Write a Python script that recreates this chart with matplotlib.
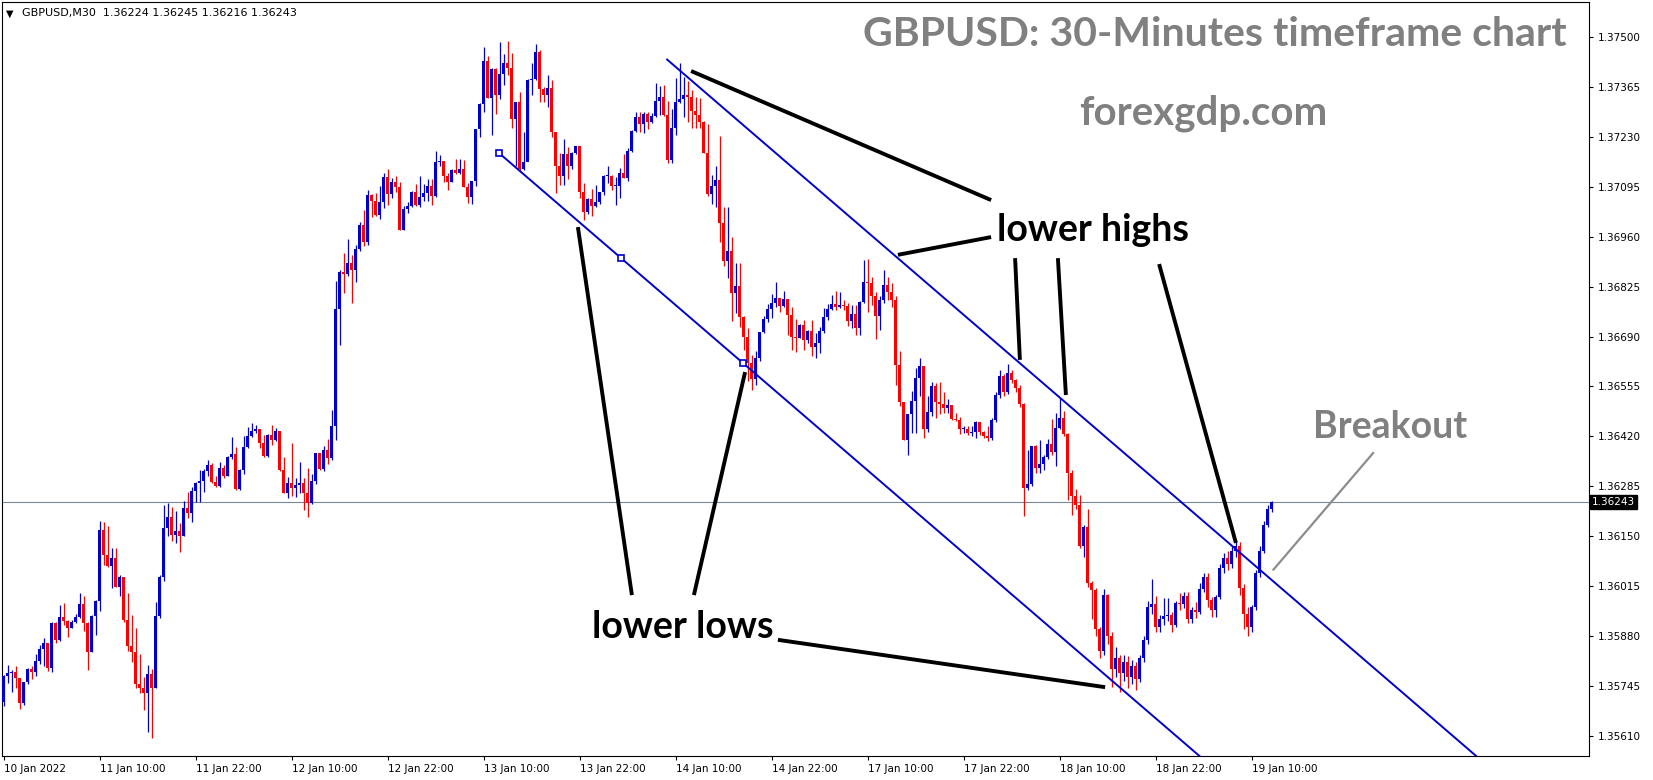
import matplotlib
matplotlib.use("Agg")
import matplotlib.pyplot as plt
from matplotlib.transforms import ScaledTranslation
import numpy as np

# GBPUSD M30 candles, price stored as points (1e-5) above 1.35000
# open of each bar = close of the previous bar
first_open = 703
closes = [
    771, 781, 782, 768, 698, 756, 791, 784, 813, 845, 862, 793, 915, 870, 933, 922, 903, 918, 933, 967,
    916, 838, 935, 976, 1167, 1099, 1070, 1090, 1014, 1040, 924, 854, 838, 751, 741, 727, 778, 739, 934, 1041,
    1173, 1203, 1153, 1164, 1151, 1227, 1214, 1272, 1295, 1300, 1327, 1343, 1298, 1287, 1334, 1314, 1363, 1372, 1278, 1329,
    1392, 1421, 1435, 1440, 1401, 1367, 1424, 1409, 1435, 1329, 1268, 1293, 1280, 1288, 1295, 1268, 1241, 1300, 1374, 1331,
    1383, 1361, 1448, 1765, 1864, 1858, 1888, 1870, 1928, 1992, 1947, 2073, 2057, 2019, 2055, 2122, 2075, 2109, 2095, 1978,
    2035, 2043, 2082, 2046, 2068, 2079, 2097, 2071, 2162, 2164, 2125, 2109, 2141, 2133, 2142, 2095, 2068, 2111, 2250, 2319,
    2435, 2336, 2414, 2343, 2400, 2431, 2417, 2277, 2323, 2142, 2163, 2384, 2386, 2460, 2359, 2343, 2363, 2242, 2150, 2125,
    2184, 2150, 2187, 2204, 2082, 2028, 2061, 2043, 2055, 2080, 2123, 2125, 2096, 2096, 2133, 2120, 2192, 2246, 2285, 2264,
    2292, 2271, 2287, 2328, 2339, 2289, 2168, 2253, 2325, 2333, 2343, 2339, 2301, 2289, 2269, 2187, 2076, 2096, 2112, 1998,
    1893, 1920, 1807, 1827, 1742, 1690, 1618, 1575, 1633, 1703, 1737, 1764, 1782, 1793, 1773, 1791, 1748, 1690, 1687, 1721,
    1681, 1706, 1663, 1672, 1706, 1742, 1764, 1778, 1771, 1775, 1772, 1733, 1751, 1714, 1784, 1838, 1834, 1800, 1745, 1790,
    1830, 1810, 1790, 1612, 1512, 1411, 1481, 1516, 1579, 1611, 1440, 1485, 1557, 1514, 1507, 1497, 1505, 1467, 1465, 1439,
    1440, 1429, 1433, 1460, 1431, 1422, 1415, 1465, 1532, 1584, 1539, 1591, 1573, 1550, 1508, 1280, 1292, 1393, 1334, 1346,
    1364, 1400, 1379, 1442, 1471, 1427, 1322, 1258, 1235, 1124, 1174, 1023, 1005, 899, 840, 991, 880, 790, 820, 780,
    810, 770, 800, 765, 820, 870, 960, 967, 905, 925, 935, 937, 910, 969, 967, 988, 925, 950, 946, 1007,
    1041, 978, 950, 985, 1065, 1090, 1075, 1110, 1125, 1010, 940, 905, 960, 1050, 1110, 1180, 1224, 1243,
]
highs = [
    775, 802, 788, 799, 768, 756, 793, 799, 832, 856, 874, 862, 919, 917, 964, 970, 924, 924, 940, 997,
    988, 918, 937, 978, 1192, 1188, 1178, 1117, 1118, 1044, 1041, 997, 937, 903, 832, 770, 802, 791, 973, 1045,
    1234, 1239, 1230, 1218, 1185, 1246, 1270, 1284, 1298, 1329, 1331, 1356, 1349, 1314, 1351, 1342, 1367, 1419, 1392, 1331,
    1421, 1446, 1457, 1451, 1441, 1424, 1427, 1451, 1442, 1435, 1365, 1309, 1403, 1307, 1352, 1308, 1335, 1318, 1376, 1376,
    1394, 1413, 1491, 1839, 1870, 1915, 1954, 1910, 1938, 2001, 2032, 2086, 2075, 2077, 2097, 2133, 2142, 2118, 2124, 2109,
    2043, 2055, 2084, 2102, 2124, 2102, 2115, 2115, 2192, 2181, 2165, 2132, 2142, 2169, 2169, 2168, 2105, 2111, 2252, 2321,
    2474, 2449, 2417, 2415, 2486, 2453, 2489, 2456, 2323, 2352, 2244, 2386, 2429, 2481, 2465, 2366, 2397, 2384, 2244, 2186,
    2223, 2202, 2190, 2205, 2205, 2105, 2064, 2088, 2100, 2082, 2127, 2150, 2127, 2121, 2145, 2184, 2199, 2249, 2296, 2296,
    2296, 2296, 2294, 2375, 2368, 2370, 2328, 2305, 2390, 2429, 2393, 2382, 2357, 2339, 2336, 2273, 2265, 2127, 2151, 2231,
    2041, 2041, 1960, 1890, 1888, 1745, 1712, 1640, 1650, 1703, 1746, 1778, 1805, 1838, 1793, 1813, 1791, 1769, 1737, 1724,
    1735, 1708, 1735, 1700, 1717, 1766, 1778, 1802, 1814, 1811, 1790, 1782, 1775, 1775, 1787, 1897, 1899, 1850, 1810, 1800,
    1870, 1850, 1835, 1800, 1651, 1512, 1481, 1544, 1604, 1633, 1611, 1530, 1568, 1564, 1566, 1539, 1520, 1505, 1483, 1472,
    1447, 1447, 1447, 1463, 1460, 1436, 1449, 1470, 1540, 1600, 1590, 1617, 1600, 1575, 1560, 1510, 1382, 1395, 1397, 1411,
    1370, 1412, 1467, 1483, 1523, 1490, 1430, 1330, 1277, 1262, 1180, 1223, 1030, 1010, 905, 1007, 994, 890, 850, 830,
    830, 825, 815, 810, 830, 880, 975, 1034, 988, 937, 982, 982, 945, 975, 997, 1000, 1000, 960, 973, 1023,
    1050, 1051, 985, 992, 1075, 1105, 1110, 1125, 1140, 1135, 1020, 960, 965, 1060, 1125, 1190, 1235, 1245,
]
lows = [
    690, 752, 730, 739, 682, 695, 750, 765, 773, 805, 798, 786, 784, 862, 867, 910, 879, 901, 915, 928,
    895, 789, 837, 883, 949, 1072, 1068, 1011, 1012, 989, 919, 840, 811, 739, 725, 680, 620, 604, 739, 930,
    1030, 1152, 1137, 1133, 1108, 1151, 1200, 1189, 1243, 1243, 1270, 1314, 1293, 1284, 1284, 1308, 1313, 1360, 1275, 1275,
    1319, 1390, 1419, 1430, 1388, 1365, 1365, 1397, 1407, 1327, 1266, 1253, 1259, 1257, 1266, 1221, 1203, 1236, 1290, 1329,
    1326, 1346, 1355, 1409, 1667, 1807, 1854, 1780, 1838, 1922, 1935, 1938, 2014, 2016, 2007, 2038, 2046, 2064, 2082, 1978,
    1978, 2023, 2040, 2044, 2039, 2057, 2057, 2046, 2066, 2151, 2109, 2085, 2107, 2130, 2129, 2094, 2052, 2049, 2098, 2229,
    2298, 2334, 2235, 2291, 2332, 2370, 2397, 2253, 2150, 2136, 2141, 2169, 2343, 2384, 2325, 2325, 2312, 2229, 2078, 2100,
    2100, 2115, 2142, 2184, 2064, 2005, 2022, 2016, 2040, 2048, 2073, 2105, 2087, 2046, 2064, 2118, 2111, 2190, 2244, 2242,
    2240, 2251, 2267, 2283, 2290, 2287, 2159, 2159, 2235, 2321, 2285, 2271, 2253, 2253, 2253, 2186, 2069, 2049, 2040, 1947,
    1880, 1848, 1733, 1753, 1717, 1655, 1570, 1545, 1560, 1625, 1699, 1730, 1739, 1771, 1757, 1769, 1694, 1654, 1649, 1685,
    1654, 1672, 1637, 1631, 1645, 1699, 1735, 1762, 1762, 1766, 1762, 1719, 1712, 1694, 1694, 1782, 1757, 1775, 1684, 1708,
    1780, 1790, 1770, 1559, 1501, 1409, 1370, 1429, 1429, 1528, 1415, 1433, 1474, 1471, 1481, 1483, 1483, 1465, 1463, 1427,
    1430, 1424, 1421, 1415, 1424, 1415, 1408, 1410, 1460, 1525, 1530, 1535, 1565, 1540, 1500, 1205, 1276, 1285, 1321, 1322,
    1330, 1360, 1370, 1339, 1440, 1420, 1249, 1208, 1225, 1118, 1095, 1014, 925, 880, 820, 830, 860, 742, 770, 729,
    760, 740, 750, 735, 755, 810, 860, 940, 890, 890, 910, 920, 890, 905, 950, 955, 915, 915, 930, 940,
    1000, 960, 933, 931, 980, 1050, 1060, 1065, 1095, 990, 900, 880, 890, 950, 1040, 1105, 1175, 1216,
]

x_labels = ['10 Jan 2022', '11 Jan 10:00', '11 Jan 22:00', '12 Jan 10:00', '12 Jan 22:00',
            '13 Jan 10:00', '13 Jan 22:00', '14 Jan 10:00', '14 Jan 22:00', '17 Jan 10:00',
            '17 Jan 22:00', '18 Jan 10:00', '18 Jan 22:00', '19 Jan 10:00']
y_ticks = [1.37500, 1.37365, 1.37230, 1.37095, 1.36960, 1.36825, 1.36690, 1.36555,
           1.36420, 1.36285, 1.36150, 1.36015, 1.35880, 1.35745, 1.35610]
last_price = 1.36243
header = "GBPUSD,M30  1.36224 1.36245 1.36216 1.36243"

# channel: anchor (bar, price) and slope per bar
upper_start = (165.9, 1.37439)
lower_start = (123.9, 1.37186)
lower_end_bar = 184.8
slope = -0.0000931

# black pointer lines (bar, price)
high_arrows = [((171.9, 1.37408), (246.9, 1.37059)),
               ((223.6, 1.36911), (246.9, 1.36959)),
               ((252.9, 1.36902), (254.1, 1.36627)),
               ((263.6, 1.36902), (265.6, 1.36532)),
               ((288.9, 1.36886), (308.1, 1.36132))]
low_arrows = [((143.6, 1.36986), (157.1, 1.35991)),
              ((172.6, 1.35991), (185.4, 1.36594)),
              ((193.6, 1.35870), (275.4, 1.35742))]
breakout_arrow = ((342.4, 1.36375), (317.5, 1.36060))

base = 1.35
c = base + np.array(closes) / 1e5
h = base + np.array(highs) / 1e5
l = base + np.array(lows) / 1e5
o = np.r_[base + first_open / 1e5, c[:-1]]
n = len(c)
x = np.arange(n)

fig = plt.figure(figsize=(16.53, 7.80), dpi=100)
ax = fig.add_axes([2 / 1653, 24 / 780, 1587 / 1653, 754 / 780])

up = c >= o
cols = np.where(up, '#0000CD', '#FF0000')
ax.vlines(x, l, h, colors=cols, linewidth=0.9, zorder=3)
body = np.maximum(np.abs(c - o), 0.000025)
ax.bar(x, body, bottom=np.minimum(o, c), width=0.75, color=cols, linewidth=0, zorder=3)

ax.axhline(last_price, color='#778899', linewidth=0.8, zorder=2)

# channel lines
xe = 400
ax.plot([upper_start[0], xe], [upper_start[1], upper_start[1] + slope * (xe - upper_start[0])],
        color='#0000CD', linewidth=1.4, zorder=4)
ax.plot([lower_start[0], xe], [lower_start[1], lower_start[1] + slope * (xe - lower_start[0])],
        color='#0000CD', linewidth=1.4, zorder=4)
sq = np.array([lower_start[0], (lower_start[0] + lower_end_bar) / 2, lower_end_bar])
ax.plot(sq, lower_start[1] + slope * (sq - lower_start[0]), 's', ms=4, mfc='white',
        mec='#0000CD', mew=1.2, zorder=5)

for (p0, p1) in high_arrows + low_arrows:
    ax.plot([p0[0], p1[0]], [p0[1], p1[1]], color='black', linewidth=2.8,
            solid_capstyle='butt', zorder=6)
ax.plot([breakout_arrow[0][0], breakout_arrow[1][0]], [breakout_arrow[0][1], breakout_arrow[1][1]],
        color='#8c8c8c', linewidth=1.6, zorder=6)

fnt = ['Lato', 'DejaVu Sans']
ax.text(272.4, 1.36978, 'lower highs', fontsize=27, fontweight='bold', family=fnt,
        ha='center', va='center', color='black', zorder=7)
ax.text(169.9, 1.35905, 'lower lows', fontsize=27, fontweight='bold', family=fnt,
        ha='center', va='center', color='black', zorder=7)
ax.text(346.6, 1.36445, 'Breakout', fontsize=27, fontweight='bold', family=fnt,
        ha='center', va='center', color='#808080', zorder=7)
ax.text(0.986, 0.957, 'GBPUSD: 30-Minutes timeframe chart', transform=ax.transAxes,
        fontsize=29.5, fontweight='bold', family=fnt, ha='right', va='center', color='#808080')
ax.text(0.757, 0.853, 'forexgdp.com', transform=ax.transAxes,
        fontsize=29, fontweight='bold', family=fnt, ha='center', va='center', color='#808080')
ax.text(0.0025, 0.985, '\u25bc', transform=ax.transAxes, fontsize=7, va='center', ha='left')
ax.text(0.0125, 0.985, header, transform=ax.transAxes, fontsize=8, va='center', ha='left')

ax.set_xlim(-0.375, 396.375)
ax.set_ylim(1.355559, 1.375946)

ax.set_xticks(np.arange(len(x_labels)) * 24)
ax.set_xticklabels(x_labels, ha='left', fontsize=7.5)
off = ScaledTranslation(1 / 100, 0, fig.dpi_scale_trans)
for lab in ax.get_xticklabels():
    lab.set_transform(lab.get_transform() + off)
ax.yaxis.tick_right()
ax.set_yticks(y_ticks)
ax.set_yticklabels(['%.5f' % v for v in y_ticks], fontsize=7.5)
ax.tick_params(axis='both', direction='out', length=3, width=0.8, pad=3)

ax.text(1.002, last_price, '%.5f' % last_price, transform=ax.get_yaxis_transform(),
        fontsize=7.5, color='white', va='center', ha='left',
        bbox=dict(boxstyle='square,pad=0.2', fc='black', ec='black'))

for s in ax.spines.values():
    s.set_linewidth(0.8)

fig.savefig('out.png', dpi=100, facecolor='white')
